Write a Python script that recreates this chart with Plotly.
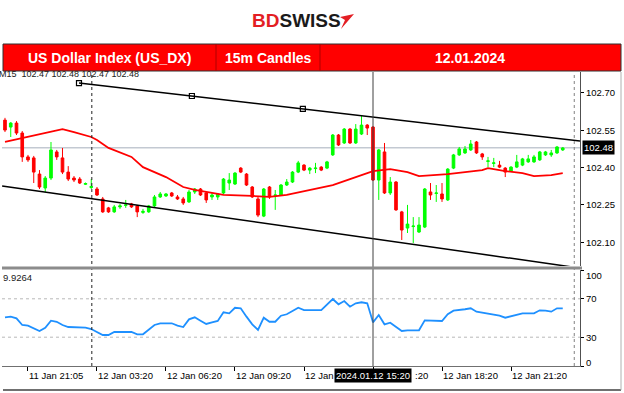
import plotly.graph_objects as go

# ---------------- data ----------------
opens = [102.591, 102.563, 102.579, 102.539, 102.443, 102.439, 102.374, 102.318, 102.358, 102.463,
         102.439, 102.382, 102.358, 102.354, 102.333, 102.320, 102.314, 102.274, 102.238, 102.222,
         102.242, 102.248, 102.254, 102.246, 102.220, 102.222, 102.246, 102.282, 102.286, 102.298,
         102.282, 102.274, 102.262, 102.302, 102.314, 102.298, 102.282, 102.282, 102.298, 102.338,
         102.334, 102.398, 102.374, 102.322, 102.274, 102.205, 102.322, 102.288, 102.290, 102.330,
         102.342, 102.382, 102.410, 102.390, 102.396, 102.402, 102.398, 102.451, 102.531, 102.499,
         102.555, 102.499, 102.535, 102.571, 102.563, 102.350, 102.463, 102.298, 102.342, 102.222,
         102.157, 102.163, 102.141, 102.161, 102.302, 102.296, 102.294, 102.270, 102.398, 102.451,
         102.459, 102.471, 102.503, 102.455, 102.425, 102.417, 102.410, 102.398, 102.386, 102.402,
         102.410, 102.423, 102.423, 102.431, 102.451, 102.451, 102.459, 102.471]
closes = [102.551, 102.579, 102.539, 102.443, 102.431, 102.382, 102.322, 102.358, 102.471, 102.443,
          102.382, 102.354, 102.350, 102.338, 102.336, 102.324, 102.290, 102.222, 102.222, 102.242,
          102.246, 102.250, 102.242, 102.222, 102.224, 102.246, 102.282, 102.294, 102.294, 102.286,
          102.274, 102.258, 102.302, 102.314, 102.290, 102.270, 102.290, 102.294, 102.354, 102.350,
          102.378, 102.382, 102.330, 102.282, 102.209, 102.314, 102.282, 102.290, 102.330, 102.342,
          102.382, 102.419, 102.390, 102.398, 102.398, 102.390, 102.423, 102.531, 102.491, 102.555,
          102.499, 102.555, 102.571, 102.559, 102.350, 102.471, 102.298, 102.342, 102.230, 102.149,
          102.173, 102.165, 102.169, 102.314, 102.290, 102.298, 102.274, 102.394, 102.451, 102.475,
          102.475, 102.495, 102.459, 102.443, 102.427, 102.419, 102.402, 102.382, 102.402, 102.423,
          102.435, 102.435, 102.443, 102.463, 102.463, 102.459, 102.483, 102.479]
highs = [102.600, 102.583, 102.587, 102.547, 102.451, 102.447, 102.390, 102.366, 102.503, 102.471,
         102.479, 102.406, 102.366, 102.362, 102.340, 102.354, 102.322, 102.282, 102.242, 102.250,
         102.254, 102.270, 102.258, 102.250, 102.234, 102.250, 102.290, 102.302, 102.298, 102.302,
         102.290, 102.282, 102.310, 102.318, 102.318, 102.302, 102.298, 102.298, 102.358, 102.378,
         102.382, 102.402, 102.378, 102.326, 102.282, 102.318, 102.326, 102.310, 102.334, 102.354,
         102.386, 102.427, 102.414, 102.402, 102.419, 102.406, 102.427, 102.535, 102.535, 102.559,
         102.559, 102.575, 102.608, 102.575, 102.567, 102.475, 102.499, 102.362, 102.346, 102.226,
         102.250, 102.201, 102.201, 102.318, 102.338, 102.330, 102.338, 102.398, 102.455, 102.483,
         102.487, 102.511, 102.507, 102.459, 102.443, 102.439, 102.427, 102.402, 102.406, 102.451,
         102.439, 102.451, 102.451, 102.467, 102.467, 102.471, 102.487, 102.483]
lows = [102.543, 102.523, 102.531, 102.423, 102.423, 102.338, 102.314, 102.302, 102.350, 102.431,
        102.374, 102.346, 102.342, 102.334, 102.330, 102.314, 102.286, 102.218, 102.218, 102.218,
        102.234, 102.238, 102.238, 102.201, 102.214, 102.218, 102.242, 102.278, 102.282, 102.282,
        102.270, 102.250, 102.258, 102.294, 102.286, 102.258, 102.270, 102.270, 102.294, 102.310,
        102.330, 102.378, 102.326, 102.278, 102.201, 102.201, 102.274, 102.230, 102.286, 102.326,
        102.338, 102.378, 102.386, 102.374, 102.378, 102.386, 102.394, 102.447, 102.487, 102.495,
        102.495, 102.495, 102.531, 102.531, 102.346, 102.270, 102.294, 102.290, 102.226, 102.109,
        102.137, 102.097, 102.137, 102.157, 102.270, 102.262, 102.262, 102.266, 102.394, 102.447,
        102.455, 102.467, 102.455, 102.431, 102.402, 102.402, 102.398, 102.362, 102.382, 102.398,
        102.406, 102.419, 102.419, 102.427, 102.447, 102.443, 102.455, 102.467]
bar_index = list(range(len(opens)))

ma_index = [0, 4, 7, 10, 12, 15, 16, 18, 22, 24, 28, 31, 33, 38, 43, 46, 49, 52, 57, 60,
            63, 64, 67, 70, 72, 74, 77, 83, 84, 87, 90, 92, 95, 97]
ma_values = [102.503, 102.523, 102.539, 102.555, 102.543, 102.523, 102.511, 102.479, 102.443, 102.402,
             102.362, 102.322, 102.310, 102.290, 102.286, 102.282, 102.290, 102.306, 102.330, 102.354,
             102.378, 102.386, 102.394, 102.382, 102.366, 102.370, 102.374, 102.390, 102.398, 102.386,
             102.378, 102.366, 102.370, 102.378]

rsi_index = [0, 1, 2, 3, 4, 5, 6, 7, 8, 9, 10, 11, 13, 14, 15, 16, 17, 18, 19, 22, 23, 24, 25, 26, 27,
             29, 30, 31, 32, 33, 34, 35, 36, 37, 38, 39, 40, 41, 42, 43, 44, 45, 46, 47, 48, 49, 50, 51, 52,
             55, 57, 58, 59, 60, 61, 62, 63, 64, 65, 66, 67, 68, 69, 70, 72, 73, 76, 77, 78, 80, 81, 82,
             84, 86, 87, 89, 90, 92, 93, 94, 95, 96, 97]
rsi_values = [50.7, 51.4, 49.7, 42.7, 42.0, 39.3, 36.5, 39.9, 47.2, 46.1, 42.7, 40.6,
              40.6, 39.9, 38.5, 35.7, 32.3, 32.3, 35.4,
              35.4, 33.0, 33.0, 37.5, 42.7, 44.5,
              44.5, 42.0, 40.6, 48.6, 50.7, 47.2, 43.8, 45.5, 46.9, 55.9, 54.9, 60.7, 60.1, 51.4, 43.4,
              37.5, 50.3, 46.1, 46.1, 52.4, 53.9, 57.3, 60.7, 58.3,
              58.3,
              69.8, 64.3, 67.7, 61.8, 65.3, 66.4, 65.3, 45.5, 53.1, 43.4, 45.1, 40.9, 36.5, 37.2,
              37.2, 47.6, 46.9, 53.9, 57.6, 59.1, 60.1, 56.6, 54.2, 52.4, 50.3, 53.1, 54.9,
              54.9, 58.0, 57.6, 56.6, 60.1, 60.1]

upper_trend_x = [12.87, 32.5, 51.8, 100.0]
upper_trend_y = [102.740, 102.688, 102.636, 102.507]
lower_trend_x = [-0.5, 100.0]
lower_trend_y = [102.326, 101.996]

last_price = 102.48
crosshair_bar = 64
day_separator_bar = 15.1
shift_bar = 99.0

price_ticks = [102.10, 102.25, 102.40, 102.55, 102.70]
rsi_levels = [30, 70]
time_label_index = [4, 16, 28, 40, 52, 64, 76, 88]
time_labels = ["11 Jan 21:05", "12 Jan 03:20", "12 Jan 06:20", "12 Jan 09:20",
               "12 Jan 12:20", "12 Jan 15:20", "12 Jan 18:20", "12 Jan 21:20"]
crosshair_label = "2024.01.12 15:20"
ohlc_text = "M15  102.47 102.48 102.47 102.48"
rsi_text = "9.9264"
title_parts = ["US Dollar Index (US_DX)", "15m Candles", "12.01.2024"]

# ---------------- layout helpers (pixel -> paper) ----------------
W, H = 624, 393
def px(x):
    return x / W
def py(y):
    return 1 - y / H

FONT = "Liberation Sans"
X_RANGE = [-0.52, 100.0]

fig = go.Figure()

fig.add_trace(go.Candlestick(
    x=bar_index, open=opens, high=highs, low=lows, close=closes,
    increasing=dict(line=dict(color="#00ff00", width=1), fillcolor="#00ff00"),
    decreasing=dict(line=dict(color="#ff0000", width=1), fillcolor="#ff0000"),
    whiskerwidth=0, xaxis="x", yaxis="y", showlegend=False, hoverinfo="skip"))

fig.add_trace(go.Scatter(x=ma_index, y=ma_values, mode="lines",
                         line=dict(color="#ff0000", width=1.8), xaxis="x", yaxis="y",
                         showlegend=False, hoverinfo="skip"))

fig.add_trace(go.Scatter(x=upper_trend_x, y=upper_trend_y, mode="lines",
                         line=dict(color="#000000", width=1.5), xaxis="x", yaxis="y",
                         showlegend=False, hoverinfo="skip"))
fig.add_trace(go.Scatter(x=upper_trend_x[:3], y=upper_trend_y[:3], mode="markers",
                         marker=dict(symbol="square-open", size=5, color="#000000",
                                     line=dict(width=1.2)),
                         xaxis="x", yaxis="y", showlegend=False, hoverinfo="skip"))
fig.add_trace(go.Scatter(x=lower_trend_x, y=lower_trend_y, mode="lines",
                         line=dict(color="#000000", width=1.5), xaxis="x", yaxis="y",
                         showlegend=False, hoverinfo="skip"))

fig.add_trace(go.Scatter(x=rsi_index, y=rsi_values, mode="lines",
                         line=dict(color="#1e90ff", width=1.8), xaxis="x", yaxis="y2",
                         showlegend=False, hoverinfo="skip"))

shapes = []
# banner
shapes.append(dict(type="rect", xref="paper", yref="paper", x0=px(3), x1=px(621),
                   y0=py(71), y1=py(44), fillcolor="#ff0000", line=dict(color="#303030", width=1)))
for xd in (216, 320):
    shapes.append(dict(type="line", xref="paper", yref="paper", x0=px(xd), x1=px(xd),
                       y0=py(71), y1=py(44), line=dict(color="#b00000", width=1)))
# logo icon
shapes.append(dict(type="path", xref="paper", yref="paper",
                   path="M %f,%f L %f,%f L %f,%f L %f,%f Z" % (px(341), py(29), px(354), py(14),
                                                              px(340), py(17), px(345), py(20)),
                   fillcolor="#e31e24", line=dict(width=0)))
# current price line
shapes.append(dict(type="line", xref="x", yref="y", x0=X_RANGE[0], x1=X_RANGE[1],
                   y0=last_price, y1=last_price, layer="below",
                   line=dict(color="#c3c9d2", width=1.5)))
# RSI levels
for lv in rsi_levels:
    shapes.append(dict(type="line", xref="x", yref="y2", x0=X_RANGE[0], x1=X_RANGE[1],
                       y0=lv, y1=lv, layer="below",
                       line=dict(color="#b8b8b8", width=1, dash="dot")))
# verticals
shapes.append(dict(type="line", xref="x", yref="paper", x0=day_separator_bar, x1=day_separator_bar,
                   y0=py(366), y1=py(72), line=dict(color="#202020", width=1, dash="dot")))
shapes.append(dict(type="line", xref="x", yref="paper", x0=shift_bar, x1=shift_bar,
                   y0=py(366), y1=py(72), line=dict(color="#808080", width=1, dash="dot")))
shapes.append(dict(type="line", xref="x", yref="paper", x0=crosshair_bar, x1=crosshair_bar,
                   y0=py(366), y1=py(72), line=dict(color="#404040", width=1)))
# panel separator
shapes.append(dict(type="line", xref="paper", yref="paper", x0=px(2), x1=px(582),
                   y0=py(268), y1=py(268), line=dict(color="#8c8c8c", width=3)))
# bottom frame line
shapes.append(dict(type="line", xref="paper", yref="paper", x0=px(3), x1=px(621),
                   y0=py(390), y1=py(390), line=dict(color="#404040", width=1.5)))
shapes.append(dict(type="line", xref="paper", yref="paper", x0=px(621), x1=px(621),
                   y0=py(390), y1=py(72), line=dict(color="#b0b0b0", width=1)))

annotations = []
annotations.append(dict(xref="paper", yref="paper", x=px(296), y=py(21),
                        text="<b><span style='color:#e31e24'>BD</span>SWISS</b>",
                        showarrow=False, xanchor="center", yanchor="middle",
                        font=dict(family=FONT, size=19, color="#1a1a1a")))
for txt, cx in zip(title_parts, (109.5, 268, 470)):
    annotations.append(dict(xref="paper", yref="paper", x=px(cx), y=py(58), text="<b>%s</b>" % txt,
                            showarrow=False, xanchor="center", yanchor="middle",
                            font=dict(family=FONT, size=14, color="white")))
annotations.append(dict(xref="paper", yref="paper", x=px(-3), y=py(74), text=ohlc_text,
                        showarrow=False, xanchor="left", yanchor="middle",
                        font=dict(family=FONT, size=9, color="#202020")))
annotations.append(dict(xref="paper", yref="paper", x=px(1), y=py(277), text=rsi_text,
                        showarrow=False, xanchor="left", yanchor="middle",
                        font=dict(family=FONT, size=9.5, color="#202020")))

# time labels; the crosshair box hides part of two of them, so only the visible parts are written
for idx, lab in zip(time_label_index, time_labels):
    if idx == crosshair_bar - 12:
        annotations.append(dict(xref="x", yref="paper", x=idx, y=py(375), text=lab.rsplit(" ", 1)[0],
                                showarrow=False, xanchor="left", yanchor="middle", xshift=-1,
                                font=dict(family=FONT, size=9.5, color="#000000")))
    elif idx == crosshair_bar:
        annotations.append(dict(xref="x", yref="paper", x=idx, y=py(375), text=lab[-3:],
                                showarrow=False, xanchor="left", yanchor="middle", xshift=40,
                                font=dict(family=FONT, size=9.5, color="#000000")))
    else:
        annotations.append(dict(xref="x", yref="paper", x=idx, y=py(375), text=lab,
                                showarrow=False, xanchor="left", yanchor="middle", xshift=-1,
                                font=dict(family=FONT, size=9.5, color="#000000")))
annotations.append(dict(xref="x", yref="paper", x=crosshair_bar, y=py(375), text=crosshair_label,
                        showarrow=False, xanchor="center", yanchor="middle", bgcolor="#000000",
                        borderpad=1, font=dict(family=FONT, size=9.5, color="#ffffff")))
annotations.append(dict(xref="paper", yref="y", x=px(582), y=last_price, text="%.2f" % last_price,
                        showarrow=False, xanchor="left", yanchor="middle", bgcolor="#000000",
                        borderpad=1, font=dict(family=FONT, size=9.5, color="#ffffff")))
annotations.append(dict(xref="paper", yref="y2", x=px(584), y=100, yshift=-5, text="100",
                        showarrow=False, xanchor="left", yanchor="middle",
                        font=dict(family=FONT, size=9.5, color="#000000")))
annotations.append(dict(xref="paper", yref="y2", x=px(584), y=0, yshift=4, text="0",
                        showarrow=False, xanchor="left", yanchor="middle",
                        font=dict(family=FONT, size=9.5, color="#000000")))

fig.update_layout(
    width=W, height=H, margin=dict(l=0, r=0, t=0, b=0),
    paper_bgcolor="white", plot_bgcolor="white", showlegend=False,
    boxgap=0.35,
    xaxis=dict(domain=[px(2), px(580)], range=X_RANGE, anchor="y2",
               showgrid=False, zeroline=False, showline=True, linecolor="#707070", linewidth=1,
               tickmode="array", tickvals=time_label_index, ticks="outside", ticklen=4,
               tickcolor="#000000", showticklabels=False, rangeslider=dict(visible=False),
               fixedrange=True),
    yaxis=dict(domain=[py(266), py(72)], range=[102.0044, 102.7844], anchor="x", side="right",
               showgrid=False, zeroline=False, showline=True, linecolor="#505050", linewidth=1,
               tickmode="array", tickvals=price_ticks, ticktext=["%.2f" % v for v in price_ticks],
               ticks="outside", ticklen=3, tickcolor="#000000",
               tickfont=dict(family=FONT, size=9.5, color="#000000")),
    yaxis2=dict(domain=[py(366), py(270)], range=[0, 100], anchor="x", side="right",
                showgrid=False, zeroline=False, showline=True, linecolor="#505050", linewidth=1,
                tickmode="array", tickvals=[0, 30, 70, 100], ticktext=["", "30", "70", ""],
                ticks="outside", ticklen=3, tickcolor="#000000",
                tickfont=dict(family=FONT, size=9.5, color="#000000")),
    shapes=shapes, annotations=annotations,
)

fig.write_html("out.html", config={"displayModeBar": False},
               post_script="document.body.style.margin='0';document.body.style.overflow='hidden';")
